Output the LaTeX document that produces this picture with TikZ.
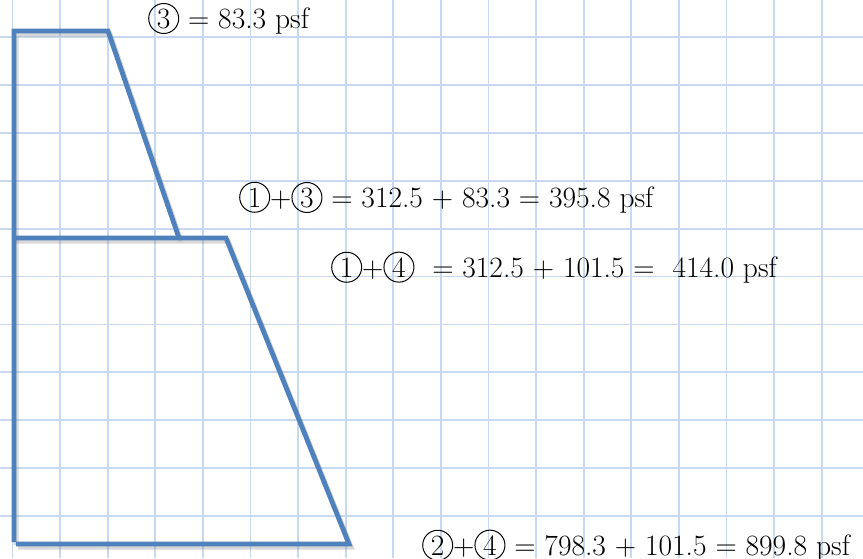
\documentclass[tikz,border=0pt]{standalone}
\usepackage{fontspec}
\usepackage{tikz}
\usetikzlibrary{positioning}
\definecolor{cGrid}{HTML}{C6D9F0}
\definecolor{cWall}{HTML}{4F81BD}
\definecolor{cShade}{HTML}{7F7F7F}
\newcommand{\cnum}[1]{\tikz[baseline=(cn.base)]\node[draw,circle,line width=1pt,inner sep=0pt,minimum size=30pt](cn){#1};}

\begin{document}
\begin{tikzpicture}[x=1pt,y=-1pt,font=\fontsize{29.5pt}{34pt}\selectfont,
    gridline/.style={cGrid,line width=1.8pt},
    wall/.style={cWall,line width=4.8pt,line join=miter},
    wallshade/.style={cShade,opacity=0.3,line width=5pt},
    load/.style={anchor=base west,inner sep=0pt}]
  \useasboundingbox (0,0) rectangle (863,558);
  \fill[white] (0,0) rectangle (863,558);
  % squared paper
  \foreach \i in {0,...,17}
    \draw[gridline] ({12.4+47.6*\i},0) -- ({12.4+47.6*\i},558);
  \foreach \j in {0,...,10}
    \draw[gridline] (0,{37+47.9*\j}) -- (863,{37+47.9*\j});
  % wall outline, with its shadow first
  \begin{scope}[shift={(2,3)}]
    \draw[wallshade] (14,542) -- (14,31) -- (108,31) -- (179,238);
    \draw[wallshade] (14,238) -- (226,238) -- (349,544) -- (16,544);
  \end{scope}
  \draw[wall] (14,542) -- (14,31) -- (108,31) -- (179,238);
  \draw[wall] (14,238) -- (226,238) -- (349,544) -- (16,544);
  % pressures
  \node[load] (lblTop) at (148,28) {\cnum{3} = 83.3 psf};
  \node[load] (lblUpper) at (239,207) {\cnum{1}+\cnum{3} = 312.5 + 83.3 = 395.8 psf};
  \node[load] (lblMid) at (331,277) {\cnum{1}+\cnum{4}\ \ = 312.5 + 101.5 =\ \ 414.0 psf};
  \node[load] (lblBase) at (422,555) {\cnum{2}+\cnum{4} = 798.3 + 101.5 = 899.8 psf};
\end{tikzpicture}
\end{document}
